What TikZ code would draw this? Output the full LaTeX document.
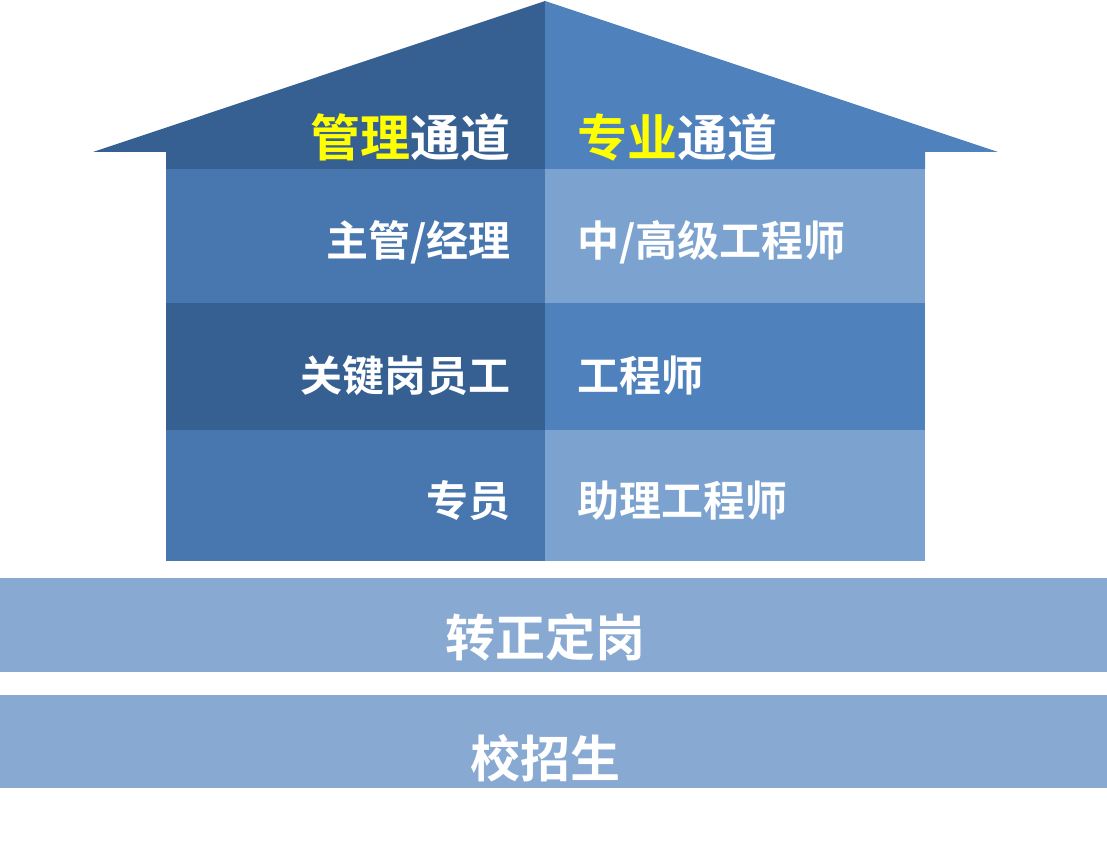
\documentclass[tikz,border=0pt]{standalone}
\usepackage{fontspec}
\usepackage{xcolor}
\usepackage{tikz}
\usetikzlibrary{positioning}
\newfontfamily\cjk{Noto Sans CJK SC}[BoldFont={Noto Sans CJK SC Bold}]
\definecolor{roofdark}{HTML}{376092}
\definecolor{roofblue}{HTML}{4F81BD}
\definecolor{midblue}{HTML}{4876AE}
\definecolor{paleblue}{HTML}{7CA2CF}
\definecolor{barblue}{HTML}{88A9D2}
\definecolor{hiyellow}{HTML}{FFFF00}

\begin{document}
\begin{tikzpicture}[x=1pt,y=-1pt,
		lbl/.style={text=white,inner sep=0pt,font=\cjk\bfseries\fontsize{42}{48}\selectfont},
		hdr/.style={text=white,inner sep=0pt,font=\cjk\bfseries\fontsize{50}{56}\selectfont}]
		\useasboundingbox (0,0) rectangle (1107,842);
		% roof
		\fill [roofdark] (93,152) -- (545,1) -- (545,169) -- (166,169) -- (166,152) -- cycle;
		\fill [roofblue] (545,1) -- (998,152) -- (925,152) -- (925,169) -- (545,169) -- cycle;
		% body
		\fill [midblue] (166,169) rectangle (545,303);
		\fill [roofdark] (166,303) rectangle (545,430);
		\fill [midblue] (166,430) rectangle (545,561);
		\fill [paleblue] (545,169) rectangle (925,303);
		\fill [roofblue] (545,303) rectangle (925,430);
		\fill [paleblue] (545,430) rectangle (925,561);
		% base
		\fill [barblue] (0,578) rectangle (1107,672);
		\fill [barblue] (0,695) rectangle (1107,788);
		\node [hdr,anchor=east] (mgmt) at (511,137) {\textcolor{hiyellow}{管理}通道};
		\node [hdr,anchor=west] (tech) at (577,137) {\textcolor{hiyellow}{专业}通道};
		\node [lbl,anchor=east] (mgr) at (511,242) {主管/经理};
		\node [lbl,anchor=east] (key) at (511,376) {关键岗员工};
		\node [lbl,anchor=east] (spec) at (511,501) {专员};
		\node [lbl,anchor=west] (senior) at (577,242) {中/高级工程师};
		\node [lbl,anchor=west] (eng) at (577,376) {工程师};
		\node [lbl,anchor=west] (asst) at (577,501) {助理工程师};
		\node [hdr] (regular) at (545,637) {转正定岗};
		\node [hdr] (campus) at (545,758) {校招生};
		\end{tikzpicture}
\end{document}
